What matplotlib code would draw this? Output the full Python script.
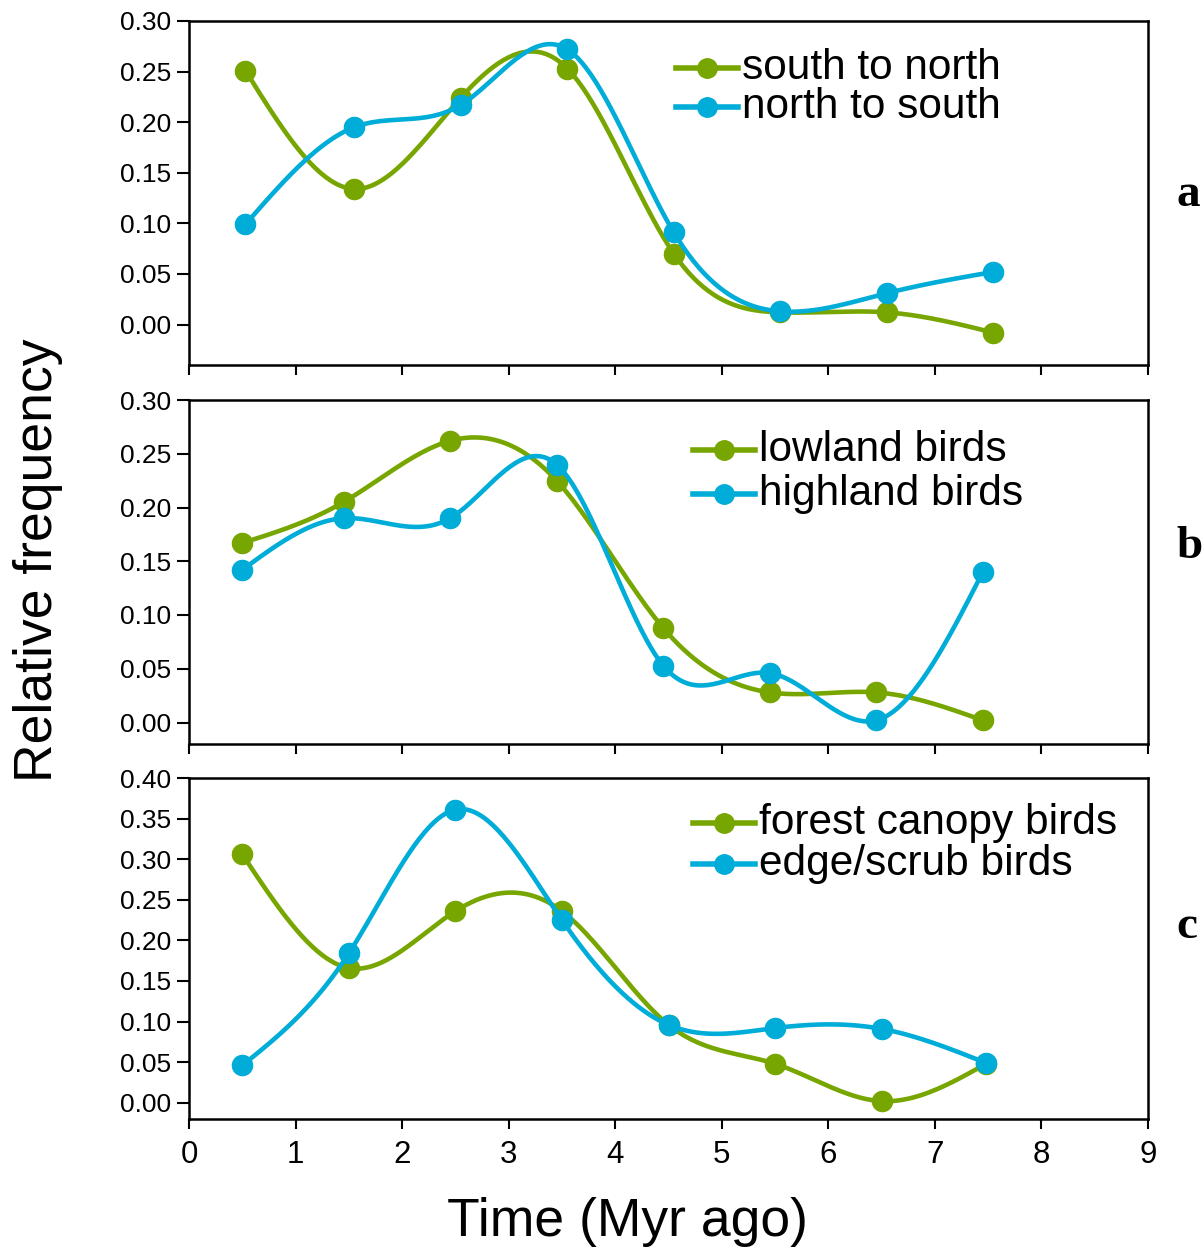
import numpy as np
import matplotlib
matplotlib.use("Agg")
import matplotlib.pyplot as plt

plt.rcParams['font.family'] = ['Liberation Sans', 'DejaVu Sans']

# panel a
time_a = [0.53, 1.55, 2.55, 3.55, 4.55, 5.55, 6.55, 7.55]
south_to_north = [0.251, 0.134, 0.224, 0.253, 0.070, 0.012, 0.012, -0.008]
north_to_south = [0.099, 0.195, 0.217, 0.272, 0.091, 0.013, 0.031, 0.052]

# panel b
time_b = [0.50, 1.45, 2.45, 3.45, 4.45, 5.45, 6.45, 7.45]
lowland = [0.167, 0.205, 0.262, 0.225, 0.088, 0.028, 0.028, 0.002]
highland = [0.142, 0.190, 0.190, 0.240, 0.053, 0.046, 0.002, 0.140]

# panel c
time_c = [0.50, 1.50, 2.50, 3.50, 4.50, 5.50, 6.50, 7.48]
forest = [0.306, 0.166, 0.236, 0.236, 0.096, 0.048, 0.002, 0.048]
edge = [0.046, 0.184, 0.361, 0.225, 0.096, 0.092, 0.091, 0.049]

GREEN = '#78a600'
BLUE = '#00acd8'


def natural_spline(x, y, n=300):
    # natural cubic spline through the points, like SigmaPlot's smooth line
    x = np.asarray(x, float)
    y = np.asarray(y, float)
    k = len(x)
    h = np.diff(x)
    A = np.zeros((k, k))
    r = np.zeros(k)
    A[0, 0] = A[-1, -1] = 1
    for i in range(1, k - 1):
        A[i, i - 1] = h[i - 1]
        A[i, i] = 2 * (h[i - 1] + h[i])
        A[i, i + 1] = h[i]
        r[i] = 3 * ((y[i + 1] - y[i]) / h[i] - (y[i] - y[i - 1]) / h[i - 1])
    c = np.linalg.solve(A, r)
    xs = np.linspace(x[0], x[-1], n)
    idx = np.clip(np.searchsorted(x, xs) - 1, 0, k - 2)
    dx = xs - x[idx]
    hi = h[idx]
    b = (y[idx + 1] - y[idx]) / hi - hi * (2 * c[idx] + c[idx + 1]) / 3
    d = (c[idx + 1] - c[idx]) / (3 * hi)
    ys = y[idx] + b * dx + c[idx] * dx ** 2 + d * dx ** 3
    return xs, ys


fig = plt.figure(figsize=(12.04, 12.53), dpi=100)
W, H = 1204, 1253
L, R = 189, 1148

panels = [
    (21, 365, time_a, south_to_north, north_to_south, 'south to north', 'north to south',
     (-0.04, 0.30), np.arange(0, 0.31, 0.05), 'a', 195, (676, 68, 39)),
    (400, 744, time_b, lowland, highland, 'lowland birds', 'highland birds',
     (-0.02, 0.30), np.arange(0, 0.31, 0.05), 'b', 547, (693, 450, 44)),
    (778, 1119, time_c, forest, edge, 'forest canopy birds', 'edge/scrub birds',
     (-0.02, 0.40), np.arange(0, 0.41, 0.05), 'c', 927, (693, 823, 41)),
]

for i, (top, bot, t, g, bl, lab_g, lab_b, ylim, yt, letter, ly, leg) in enumerate(panels):
    ax = fig.add_axes([L / W, 1 - bot / H, (R - L) / W, (bot - top) / H])
    for y, col, lab in [(g, GREEN, lab_g), (bl, BLUE, lab_b)]:
        xs, ys = natural_spline(t, y)
        ax.plot(xs, ys, color=col, lw=3.3, solid_capstyle='round')
        ax.plot(t, y, 'o', color=col, ms=14.5, mec=col)
    ax.set_xlim(0, 9)
    ax.set_ylim(*ylim)
    ax.set_yticks(yt)
    ax.set_yticklabels([f'{v:.2f}' for v in yt])
    ax.set_xticks(range(10))
    ax.tick_params(axis='y', labelsize=19, length=9, width=1.5, direction='out', pad=4)
    ax.tick_params(axis='x', labelsize=22.5, length=7, width=1.5, direction='out', pad=8)
    if i < 2:
        ax.set_xticklabels([])
    for s in ax.spines.values():
        s.set_linewidth(1.8)

    # legend drawn by hand so it sits where the original puts it
    lx, ly0, dy = leg
    for j, (col, lab) in enumerate([(GREEN, lab_g), (BLUE, lab_b)]):
        yy = ly0 + j * dy
        fig.add_artist(plt.Line2D([lx / W, (lx + 62) / W], [1 - yy / H, 1 - yy / H],
                                  color=col, lw=4))
        fig.add_artist(plt.Line2D([(lx + 31) / W], [1 - yy / H], marker='o',
                                  color=col, ms=14))
        fig.text((lx + 66) / W, 1 - yy / H, lab, fontsize=30.5, va='center', ha='left')

    fig.text(1176 / W, 1 - ly / H, letter, fontsize=34, fontweight='bold',
             family='Liberation Serif', va='center', ha='left')

fig.text(627 / W, 1 - 1222 / H, 'Time (Myr ago)', fontsize=38.5, ha='center', va='center')
fig.text(38 / W, 1 - 560 / H, 'Relative frequency', fontsize=38.5, rotation=90,
         ha='center', va='center')

fig.savefig('out.png', dpi=100)
